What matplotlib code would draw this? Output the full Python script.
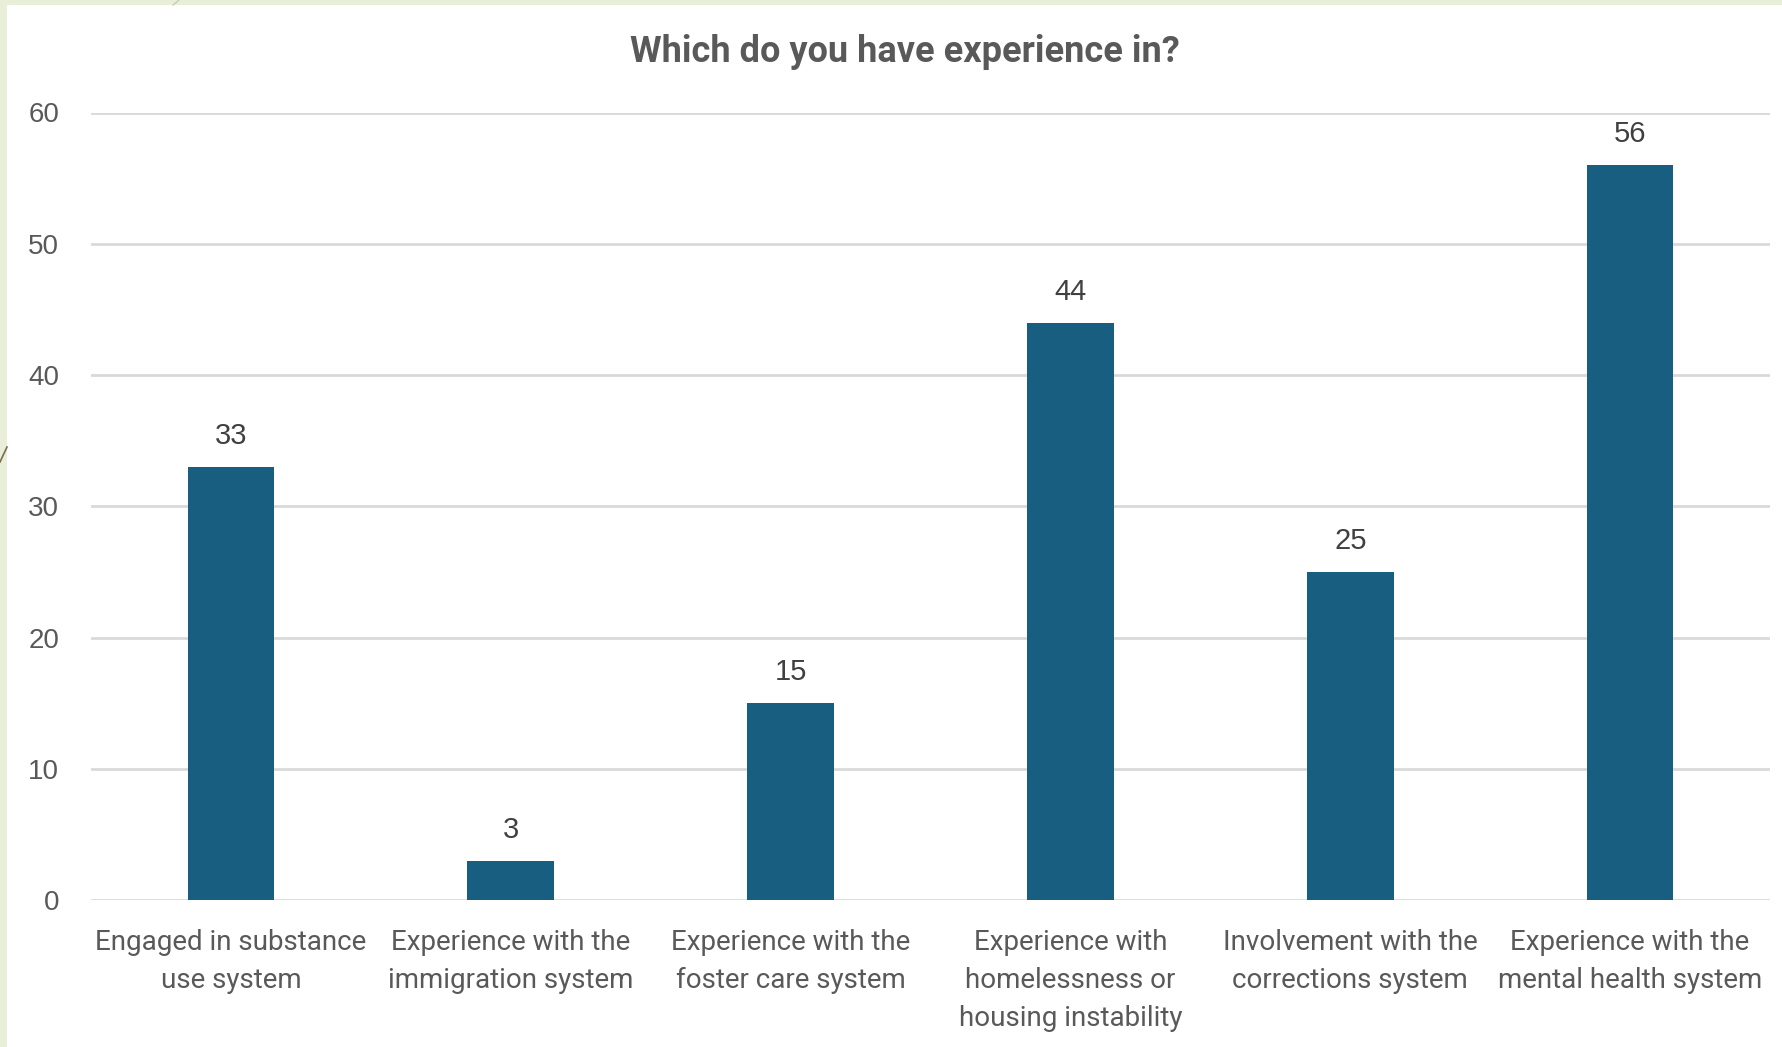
import matplotlib.pyplot as plt
from matplotlib.patches import Rectangle
from matplotlib.lines import Line2D
from matplotlib import font_manager

categories = [
    "Engaged in substance\nuse system",
    "Experience with the\nimmigration system",
    "Experience with the\nfoster care system",
    "Experience with\nhomelessness or\nhousing instability",
    "Involvement with the\ncorrections system",
    "Experience with the\nmental health system",
]
counts = [33, 3, 15, 44, 25, 56]
yticks = [0, 10, 20, 30, 40, 50, 60]

names = {f.name for f in font_manager.fontManager.ttflist}
narrow = "Liberation Sans Narrow" if "Liberation Sans Narrow" in names else "Roboto"
plain = "Liberation Sans"

bar_color = "#175e80"
text_color = "#595959"
grid_color = "#d9d9d9"

W, H = 1782, 1047
fig = plt.figure(figsize=(17.82, 10.47), dpi=100)
fig.patch.set_facecolor("#e9eed9")
# white slide area behind the chart
fig.patches.append(Rectangle((7 / W, 0), 1, 1 - 5 / H, transform=fig.transFigure,
                             facecolor="white", edgecolor="none", zorder=-5))
fig.lines.append(Line2D([0, 7 / W], [1 - 462 / H, 1 - 447 / H], transform=fig.transFigure,
                        color="#7a6e50", lw=1.2, zorder=-4))
fig.lines.append(Line2D([173 / W, 179 / W], [1 - 5 / H, 1], transform=fig.transFigure,
                        color="#c9cdb5", lw=1.0, zorder=-4))

ax = fig.add_axes([91 / W, 1 - 900 / H, (1770 - 91) / W, (900 - 112.5) / H])
ax.set_facecolor("none")
x = range(len(categories))
bars = ax.bar(x, counts, width=0.31, color=bar_color, zorder=3)
ax.set_xlim(-0.5, len(categories) - 0.5)
ax.set_ylim(0, 60)
ax.set_yticks(yticks)
ax.yaxis.grid(True, color=grid_color, lw=2, zorder=0)
ax.set_axisbelow(True)
for s in ["top", "right", "left", "bottom"]:
    ax.spines[s].set_visible(False)
ax.tick_params(length=0)
ax.set_yticklabels([str(v) for v in yticks], fontsize=20, color=text_color, family=plain)
ax.tick_params(axis="y", pad=23)
ax.set_xticks(list(x))
ax.set_xticklabels(categories, fontsize=20, color=text_color, family=narrow, linespacing=1.52,
                   va="top")
ax.tick_params(axis="x", pad=21)

for b, v in zip(bars, counts):
    ax.annotate(str(v), (b.get_x() + b.get_width() / 2, v), xytext=(0, 12), textcoords="offset points",
                ha="center", va="bottom", fontsize=21, color="#404040", family=plain)

fig.text(905 / W, 1 - 52 / H, "Which do you have experience in?", ha="center", va="center",
         fontsize=26, fontweight="bold", color=text_color, family=narrow)

fig.savefig("out.png", dpi=100, facecolor=fig.get_facecolor())
